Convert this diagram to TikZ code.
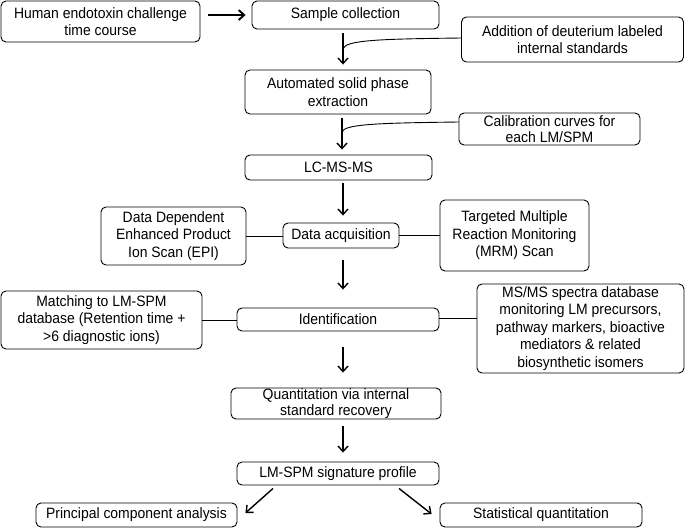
\documentclass[tikz,border=0pt]{standalone}
\usepackage{fontspec}
\setmainfont{Liberation Sans}[FakeStretch=0.93]
\usetikzlibrary{arrows.meta}
\begin{document}
\begin{tikzpicture}[x=1pt,y=-1pt,
  box/.style={draw, rounded corners=5pt, line width=0.9pt, align=center, inner sep=0pt,
    font=\fontsize{15}{17.5}\selectfont},
  arr/.style={-{Straight Barb[length=5.5pt,width=10pt]}, line width=1.4pt},
  thickarr/.style={-{Straight Barb[length=5.5pt,width=10pt]}, line width=1.9pt},
  link/.style={line width=0.9pt}]
\useasboundingbox (0,0) rectangle (685,528);

\node[box, minimum width=199pt, minimum height=41pt] (human) at (100.5,21.5) {Human endotoxin challenge\\time course};
\node[box, minimum width=187pt, minimum height=28pt] (sample) at (345.5,15) {Sample collection};
\node[box, minimum width=222pt, minimum height=45pt] (add) at (572.5,39.5) {Addition of deuterium labeled\\internal standards};
\node[box, minimum width=186pt, minimum height=44pt] (auto) at (338,92) {Automated solid phase\\extraction};
\node[box, minimum width=181pt, minimum height=32pt, font=\fontsize{15}{16.5}\selectfont] (calib) at (549.5,129) {Calibration curves for\\each LM/SPM};
\node[box, minimum width=187pt, minimum height=25pt] (lcms) at (338.5,167.5) {LC-MS-MS};
\node[box, minimum width=145pt, minimum height=58pt] (dd) at (173.5,236) {Data Dependent\\Enhanced Product\\Ion Scan (EPI)};
\node[box, minimum width=116pt, minimum height=25pt] (da) at (341,235.5) {Data acquisition};
\node[box, minimum width=149pt, minimum height=71pt] (tmrm) at (514.5,235.5) {Targeted Multiple\\Reaction Monitoring\\(MRM) Scan};
\node[box, minimum width=201pt, minimum height=58pt] (match) at (101.5,320) {Matching to LM-SPM\\database (Retention time +\\>6 diagnostic ions)};
\node[box, minimum width=202pt, minimum height=23pt] (ident) at (338,319.5) {Identification};
\node[box, minimum width=207pt, minimum height=89pt] (msms) at (580.5,328.5) {MS/MS spectra database\\monitoring LM precursors,\\pathway markers, bioactive\\mediators \& related\\biosynthetic isomers};
\node[box, minimum width=210pt, minimum height=31pt, font=\fontsize{15}{16.5}\selectfont] (quant) at (336,403.5) {Quantitation via internal\\standard recovery};
\node[box, minimum width=202pt, minimum height=23pt] (lm) at (338,473.5) {LM-SPM signature profile};
\node[box, minimum width=201pt, minimum height=24pt] (pca) at (136.5,515) {Principal component analysis};
\node[box, minimum width=202pt, minimum height=24pt] (stat) at (541,515) {Statistical quantitation};

% main flow
\draw[thickarr] ([xshift=8pt]human.east |- sample.west) -- ([xshift=-6pt]sample.west);
\draw[arr] ([xshift=-2.5pt,yshift=-4pt]sample.south) -- ([xshift=5pt,yshift=5pt]auto.north);
\draw[arr] ([xshift=4pt,yshift=-4pt]auto.south) -- ([xshift=3.5pt,yshift=5pt]lcms.north);
\draw[arr] ([xshift=4.5pt,yshift=-3pt]lcms.south) -- ([xshift=2pt,yshift=7pt]da.north);
\draw[arr] ([xshift=2pt,yshift=-12pt]da.south) -- ([xshift=5pt,yshift=18pt]ident.north);
\draw[arr] ([xshift=5pt,yshift=-16pt]ident.south) -- ([xshift=7pt,yshift=15pt]quant.north);
\draw[arr] ([xshift=7pt,yshift=-7pt]quant.south) -- ([xshift=5pt,yshift=9pt]lm.north);
\draw[arr] ([xshift=-65pt,yshift=-3pt]lm.south) -- ([xshift=8pt,yshift=2pt]pca.east);
\draw[arr] ([xshift=61pt,yshift=-3pt]lm.south) -- ([xshift=-8pt,yshift=1pt]stat.west);

% side inputs joining the arrows
\coordinate (j1) at (343,49);
\coordinate (j2) at (342,132);
\draw[link] ([yshift=1.5pt]add.west) .. controls (380,39) and (345,40) .. (j1);
\draw[link] ([yshift=7pt]calib.west) .. controls (380,123) and (344,124) .. (j2);

% side links
\draw[link] (dd.east) -- (dd.east -| da.west);
\draw[link] (da.east) -- (da.east -| tmrm.west);
\draw[link] (match.east) -- (match.east -| ident.west);
\draw[link] ([yshift=1.5pt]ident.east) -- ([yshift=1.5pt]ident.east -| msms.west);
\end{tikzpicture}
\end{document}
